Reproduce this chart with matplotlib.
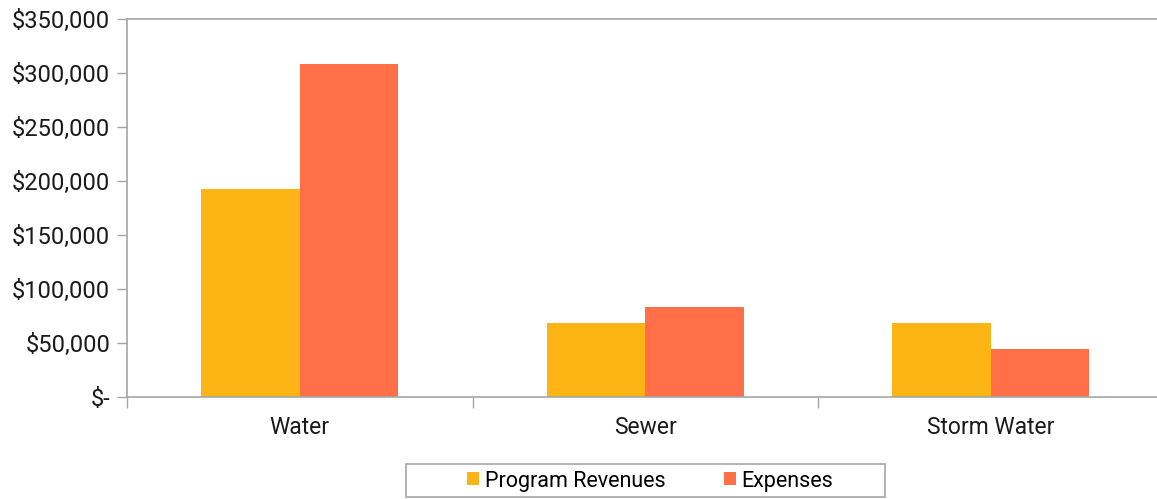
import matplotlib
matplotlib.use("Agg")
import matplotlib.pyplot as plt
import numpy as np
from matplotlib.ticker import FuncFormatter, FixedLocator
from matplotlib.patches import Rectangle

categories = ["Water", "Sewer", "Storm Water"]
program_revenues = [192500, 68500, 68500]
expenses = [308000, 83500, 44500]
series_names = ["Program Revenues", "Expenses"]
colors = ["#FDB515", "#FF6F48"]

plt.rcParams['font.family'] = ['Roboto', 'DejaVu Sans']

fig = plt.figure(figsize=(11.57, 4.99), dpi=100)
W, H = 1157, 499
x0, x1 = 127, 1163.5
y0, y1 = 19, 397
ax = fig.add_axes([x0 / W, 1 - y1 / H, (x1 - x0) / W, (y1 - y0) / H])

x = np.arange(len(categories))
bw = 0.285
ax.bar(x - bw / 2, program_revenues, bw, color=colors[0], label=series_names[0])
ax.bar(x + bw / 2, expenses, bw, color=colors[1], label=series_names[1])

ax.set_xlim(-0.5, len(categories) - 0.5)
ax.set_ylim(0, 350000)
ax.set_yticks(np.arange(0, 350001, 50000))

def fmt(v, p):
    if v == 0:
        return "$-"
    return "${:,.0f}".format(v)
ax.yaxis.set_major_formatter(FuncFormatter(fmt))

ax.set_xticks(x)
ax.set_xticklabels(categories)
ax.xaxis.set_minor_locator(FixedLocator(np.arange(-0.5, len(categories), 1.0)))
ax.tick_params(axis='x', which='major', length=0, pad=14, labelsize=16.5, colors='#1a1a1a')
ax.tick_params(axis='x', which='minor', length=8, width=1, color='#A6A6A6')
ax.tick_params(axis='y', length=7, width=1, color='#A6A6A6', labelsize=17, labelcolor='#1a1a1a', pad=5)

for s in ['left', 'bottom', 'top', 'right']:
    ax.spines[s].set_color('#A6A6A6')
    ax.spines[s].set_linewidth(1.2)

fig.patches.append(Rectangle((406 / W, 1 - 497 / H), (885 - 406) / W, (497 - 464) / H,
                             transform=fig.transFigure, fill=False,
                             edgecolor='#A6A6A6', linewidth=1.2))
leg = fig.legend(loc='center', bbox_to_anchor=(650 / W, 1 - 481 / H), ncol=2,
                 frameon=False, fontsize=15.5,
                 handlelength=0.56, handleheight=0.56, handletextpad=0.25,
                 columnspacing=2.7, borderpad=0.3)

fig.savefig("out.png", dpi=100)
